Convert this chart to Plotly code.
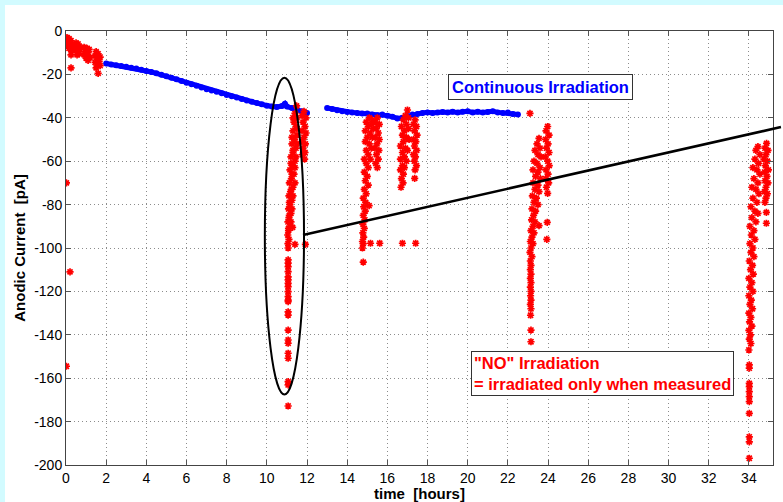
import plotly.graph_objects as go

# ---------------- data ----------------
blue1_x = [2.0, 2.25, 2.5, 2.75, 3.0, 3.25, 3.5, 3.75, 4.0, 4.25, 4.5, 4.75, 5.0, 5.25, 5.5, 5.75,
           6.0, 6.25, 6.5, 6.75, 7.0, 7.25, 7.5, 7.75, 8.0, 8.25, 8.5, 8.75, 9.0, 9.25, 9.5, 9.75,
           10.0, 10.25, 10.5, 10.75, 10.9, 11.0, 11.25, 11.5, 11.75, 12.0]
blue1_y = [-15.0, -15.4, -15.8, -16.1, -16.5, -16.9, -17.3, -17.8, -18.4, -18.9, -19.5, -20.2, -20.9, -21.5, -22.2, -23.0,
           -23.8, -24.5, -25.2, -26.0, -26.8, -27.4, -28.0, -28.7, -29.5, -30.1, -30.7, -31.3, -32.0, -32.6, -33.2, -33.8,
           -34.5, -34.8, -35.0, -34.6, -33.5, -34.8, -35.5, -36.2, -37.0, -37.8]
blue2_x = [13.0, 13.25, 13.5, 13.75, 14.0, 14.25, 14.5, 14.75, 15.0, 15.25, 15.5, 15.75, 16.0, 16.25, 16.5, 16.75,
           17.0, 17.25, 17.5, 17.75, 18.0, 18.25, 18.5, 18.75, 19.0, 19.25, 19.5, 19.75, 20.0, 20.25, 20.5, 20.75,
           21.0, 21.25, 21.5, 21.75, 22.0, 22.25, 22.5]
blue2_y = [-35.5, -36.0, -36.5, -37.0, -37.3, -37.5, -37.8, -38.0, -38.0, -38.5, -38.8, -38.5, -39.0, -39.5, -40.3, -40.0,
           -39.2, -38.5, -38.2, -37.8, -37.5, -37.8, -37.5, -37.3, -37.5, -37.2, -37.6, -37.2, -37.0, -37.5, -37.2, -37.6,
           -37.3, -37.0, -37.5, -37.8, -37.6, -38.2, -38.5]

# cluster at the start (0 - 2 h)
red_a_x = [0.05, 0.15, 0.1, 0.25, 0.05, 0.2, 0.3, 0.1, 0.2, 0.3, 0.15, 0.25, 0.3, 0.25, 0.25,
           0.5, 0.6, 0.45, 0.65, 0.55, 0.7, 0.5, 0.6, 0.65, 0.55,
           0.9, 1.05, 1.15, 0.95, 1.1, 0.9, 1.05, 1.2, 1.0, 1.1,
           1.5, 1.6, 1.45, 1.7, 1.55, 1.65, 1.45, 1.6, 1.7, 1.5, 1.6,
           0.02, 0.2, 0.02]
red_a_y = [-3, -3.5, -4.5, -4.5, -5.5, -5.5, -6, -6.5, -7, -7.5, -8, -8.5, -9, -11, -17,
           -5.5, -6, -7, -7, -8, -8.5, -9, -9.5, -10.5, -11,
           -7.5, -8, -8.5, -9.5, -10, -11, -11.5, -12, -12.5, -13.5,
           -9.5, -10.5, -11.5, -12, -13, -14, -14.5, -15.5, -16, -17, -19.5,
           -70, -111, -154.5]

# cluster around 11 - 12 h
red_b_x = [11.48, 11.4, 11.5, 11.35, 11.45, 11.3, 11.5, 11.38, 11.25, 11.45, 11.3, 11.2, 11.4, 11.28, 11.15, 11.35,
           11.22, 11.12, 11.3, 11.18, 11.1, 11.25, 11.15, 11.08, 11.2, 11.1, 11.05, 11.15, 11.08, 11.04, 11.1, 11.05, 11.06,
           11.3, 11.5, 11.25, 11.5, 11.3, 11.45, 11.2, 11.4, 11.25, 11.4, 11.22, 11.3, 11.12, 11.25, 11.12, 11.2, 11.08,
           11.28, 11.4, 11.92,
           11.06, 11.06, 11.06, 11.06, 11.06, 11.06, 11.06, 11.06, 11.06, 11.06, 11.06, 11.06, 11.06, 11.06, 11.06,
           11.06, 11.06, 11.06, 11.06, 11.06, 11.06, 11.06,
           11.85, 11.75, 11.95, 11.8, 11.9, 11.75, 11.95, 11.85, 11.75, 11.92, 11.8, 11.9, 11.78, 11.88]
red_b_y = [-34.5, -38, -40, -42, -44, -46, -48, -50, -52, -54, -56, -58, -60, -62, -64, -66,
           -68, -70, -72, -74, -76, -78, -80, -82, -84, -86, -88, -90, -92, -94, -96, -98, -100,
           -40, -45, -49, -52, -55, -58, -61, -63, -66, -70, -73, -76, -79, -82, -85, -88, -91,
           -90.5, -98.3, -98.3,
           -105.5, -107, -108.6, -110.9, -113.3, -114.7, -116.3, -117.8, -120.1, -122.4, -124, -124.7, -129.4, -130.9, -137.8,
           -142.4, -143.9, -148.5, -150.8, -161.6, -163.1, -172.8,
           -37, -39, -40, -42, -44, -46, -47, -49, -51, -52, -54, -56, -57, -59]

# cluster around 15 h
red_c_x = [15.1, 15.25, 14.95, 15.2, 15.05, 15.3, 14.9, 15.15, 15.0, 15.25, 14.9, 15.1, 15.2, 14.95, 15.05, 14.85,
           15.15, 14.95, 15.05, 14.85, 15.0, 14.9, 15.05, 14.85, 14.95, 14.8, 14.92, 15.09, 14.82, 14.9, 14.8, 14.88,
           14.78, 14.85, 14.78, 14.82, 14.76, 14.8, 14.76, 14.8,
           15.5, 15.4, 15.6, 15.45, 15.55, 15.4, 15.6, 15.48, 15.38, 15.58, 15.45, 15.55, 15.42, 15.5,
           15.16, 15.62, 16.75, 17.41]
red_c_y = [-40, -41, -42, -43, -44, -45, -46, -47, -49, -49, -51, -52, -54, -55, -57, -59,
           -59, -61, -63, -65, -67, -69, -71, -73, -75, -77, -79, -80.5, -81, -83, -85, -87,
           -89, -91, -93, -95, -97, -98, -100, -106.5,
           -40, -42, -43, -45, -47, -49, -50, -52, -54, -55, -57, -59, -61, -63,
           -97.8, -97.8, -97.8, -97.8]

# cluster around 17 h
red_d_x = [17.0, 16.9, 17.05, 16.8, 16.95, 16.7, 17.05, 16.85, 16.75, 16.95, 17.08, 16.8, 16.65, 16.9, 17.0, 16.75,
           16.85, 16.65, 16.95, 16.75, 16.85, 16.65, 16.8, 16.7, 16.78, 16.68,
           17.38, 17.3, 17.45, 17.35, 17.48, 17.3, 17.42, 17.35, 17.46, 17.3, 17.4, 17.34, 17.45, 17.38, 17.36]
red_d_y = [-36.4, -39, -40, -41, -43, -44, -45, -46, -48, -49, -50, -51, -53, -54, -55, -56,
           -58, -59, -60, -62, -63, -64, -66, -68, -70, -72,
           -41, -43, -44, -46, -48, -50, -51, -53, -55, -57, -58, -60, -62, -64, -67.9]

# cluster around 23.5 h
red_e_x = [23.1,
           23.55, 23.45, 23.6, 23.35, 23.5, 23.65, 23.3, 23.45, 23.6, 23.25, 23.5, 23.38, 23.62, 23.25, 23.5, 23.35,
           23.55, 23.22, 23.42, 23.3, 23.5, 23.2, 23.38, 23.28, 23.18, 23.35, 23.25, 23.15, 23.3, 23.2, 23.12, 23.25,
           23.15, 23.1, 23.2, 23.12,
           23.15, 23.12, 23.15, 23.12, 23.15, 23.12, 23.15, 23.13, 23.15, 23.12, 23.15, 23.13, 23.15, 23.15,
           23.98, 23.9, 24.05, 23.88, 24.0, 23.92, 24.05, 23.86, 23.98, 24.06, 23.9, 24.0, 23.88, 24.03, 23.92, 23.98,
           23.55, 23.96, 23.94]
red_e_y = [-38,
           -49.5, -52, -54, -55, -57, -58, -60, -61, -63, -64, -65, -67, -68, -70, -71, -73,
           -74, -76, -77, -79, -80, -82, -83, -85, -87, -88, -90, -92, -93, -95, -97, -98,
           -100, -102, -104, -106,
           -108, -110, -112, -114, -116, -118, -120, -122, -124, -126, -128, -131, -137.8, -143.2,
           -44, -46, -48, -50, -52, -54, -56, -58, -60, -62, -64, -66, -68, -70, -72, -74.8,
           -89.7, -88.2, -96]

# cluster around 34 h
red_f_x = [34.45, 34.35, 34.55, 34.3, 34.48, 34.2, 34.4, 34.55, 34.25, 34.45, 34.15, 34.35, 34.5, 34.2, 34.4, 34.1,
           34.3, 34.45, 34.15, 34.35, 34.05, 34.25, 34.12, 34.3, 34.05, 34.2, 34.1, 34.25, 34.02, 34.18, 34.08, 34.22,
           34.0, 34.15, 34.05, 34.2, 34.0, 34.12, 34.05, 34.18, 34.0, 34.1, 34.03, 34.15, 34.0, 34.08, 34.02, 34.1, 34.0,
           34.02, 34.02, 34.02, 34.02, 34.02, 34.02, 34.02, 34.02, 34.02, 34.02, 34.02,
           34.88, 34.8, 34.95, 34.85, 34.75, 34.92, 34.82, 34.97, 34.78, 34.9, 34.8, 34.95, 34.85, 34.78, 34.92, 34.85,
           34.8, 34.87, 34.87]
red_f_y = [-53.3, -55, -57, -59, -61, -63, -64, -66, -68, -70, -72, -73, -75, -77, -79, -81,
           -83, -84, -86, -88, -90, -92, -94, -96, -98, -100, -102, -104, -106, -108, -110, -112,
           -114, -116, -118, -120, -122, -124, -126, -128, -130, -132, -134, -136, -138, -140, -142, -144, -147,
           -153.9, -155.4, -162.4, -163.9, -166.2, -168.5, -170.8, -176.2, -187, -189.3, -196.9,
           -51.8, -54, -55, -57, -59, -60, -62, -64, -65, -67, -69, -70, -72, -74, -75, -77,
           -79, -83.6, -88.6]

x_ticks = [0, 2, 4, 6, 8, 10, 12, 14, 16, 18, 20, 22, 24, 26, 28, 30, 32, 34]
y_ticks = [0, -20, -40, -60, -80, -100, -120, -140, -160, -180, -200]
y_tick_labels = ["0", "-20", "-40", "-60", "-80", "-100", "-120", "-140", "-160", "-180", "-200"]

# ---------------- figure ----------------
RED = "#ff0000"
BLUE = "#0000ff"
FONT = "Liberation Sans, Arial, sans-serif"

fig = go.Figure()

for bx, by in [(blue1_x, blue1_y), (blue2_x, blue2_y)]:
    fig.add_trace(go.Scatter(x=bx, y=by, mode="lines+markers",
                             line=dict(color=BLUE, width=5),
                             marker=dict(color=BLUE, size=6, symbol="circle"),
                             showlegend=False, hoverinfo="skip"))

red_x = red_a_x + red_b_x + red_c_x + red_d_x + red_e_x + red_f_x
red_y = red_a_y + red_b_y + red_c_y + red_d_y + red_e_y + red_f_y
fig.add_trace(go.Scatter(x=red_x, y=red_y, mode="markers",
                         marker=dict(color=RED, size=6, symbol="asterisk-open",
                                     line=dict(color=RED, width=1.7)),
                         showlegend=False, hoverinfo="skip"))

axis_common = dict(
    showline=True, linecolor="#444444", linewidth=1, mirror="ticks",
    ticks="inside", ticklen=5, tickcolor="#555555", tickwidth=1,
    showgrid=True, gridcolor="#8c8c8c", gridwidth=1, griddash="1px,3px",
    zeroline=False,
    tickfont=dict(family=FONT, size=14, color="black"),
)

fig.update_xaxes(range=[0, 35.2], tickvals=x_ticks,
                 title=dict(text="<b>time \u00a0[hours]</b>", font=dict(family=FONT, size=15, color="black"),
                            standoff=2),
                 **axis_common)
fig.update_yaxes(range=[-200, 0], tickvals=y_ticks, ticktext=y_tick_labels,
                 title=dict(text="<b>Anodic Current \u00a0[pA]</b>", font=dict(family=FONT, size=15, color="black"),
                            standoff=4),
                 **axis_common)

# ellipse around the 11 h measurement
fig.add_shape(type="circle", xref="x", yref="y", x0=9.9, x1=11.85, y0=-167.5, y1=-21.5,
              line=dict(color="black", width=2))

# background frame (slide colour on the left and top)
fig.add_shape(type="rect", xref="paper", yref="paper", x0=-61 / 707, x1=2, y0=-1, y1=460 / 434,
              fillcolor="white", line=dict(width=0), layer="below")

# connecting line from the ellipse to the right edge
fig.add_annotation(x=11.8, y=-94, ax=35.67, ay=-44.1, xref="x", yref="y", axref="x", ayref="y",
                   text="", showarrow=True, arrowhead=0, arrowwidth=2.6, arrowcolor="black",
                   standoff=0, startstandoff=0)

fig.add_annotation(x=23.63, y=-26.0, xref="x", yref="y",
                   text="<b>Continuous Irradiation</b>", showarrow=False,
                   font=dict(family=FONT, size=16.5, color=BLUE),
                   bgcolor="white", bordercolor="#333333", borderwidth=1, borderpad=3)

fig.add_annotation(x=26.7, y=-157.7, xref="x", yref="y",
                   text="<b>\"NO\" Irradiation<br>= irradiated only when measured</b>", showarrow=False,
                   align="left", font=dict(family=FONT, size=16.5, color=RED),
                   bgcolor="white", bordercolor="#333333", borderwidth=1, borderpad=2)

fig.update_layout(
    width=783, height=502,
    margin=dict(l=66, r=10, t=31, b=37, autoexpand=False),
    paper_bgcolor="#d2fbff",
    plot_bgcolor="white",
    showlegend=False,
)

fig.write_html("out.html")
